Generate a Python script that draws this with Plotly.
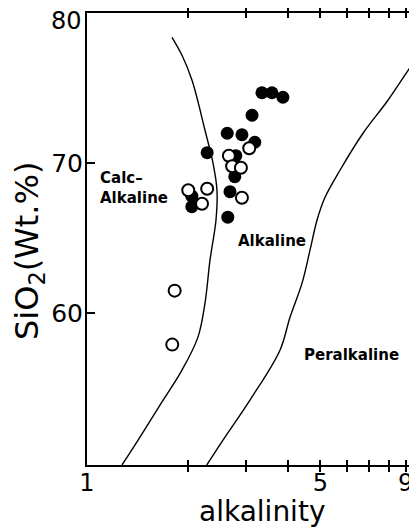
import plotly.graph_objects as go
import math

# Boundary curves (alkalinity, SiO2)
calc_alk_x = [1.797, 1.925, 2.063, 2.256, 2.384, 2.450, 2.433, 2.335, 2.256, 2.149, 1.925, 1.654, 1.441, 1.273]
calc_alk_y = [78.4, 77.2, 75.53, 72.2, 70.0, 68.2, 66.2, 63.53, 60.67, 58.4, 56.2, 53.87, 51.73, 49.87]
peralk_x = [2.284, 2.554, 3.076, 3.783, 4.054, 4.404, 4.653, 4.883, 5.161, 5.721, 6.706, 7.964, 9.73, 10.64]
peralk_y = [49.87, 51.53, 54.2, 57.53, 59.73, 62.0, 64.2, 66.2, 67.73, 69.53, 72.0, 74.2, 77.07, 78.2]

# Samples
filled_x = [3.34, 3.58, 3.86, 3.12, 2.63, 2.91, 3.18, 2.29, 2.79, 2.77, 2.68, 2.64, 2.06, 2.06]
filled_y = [74.7, 74.7, 74.4, 73.2, 72.0, 71.9, 71.4, 70.7, 70.5, 69.1, 68.1, 66.4, 67.8, 67.1]
open_x = [2.66, 3.06, 2.72, 2.89, 2.91, 2.01, 2.29, 2.21, 1.83, 1.80]
open_y = [70.5, 71.0, 69.8, 69.7, 67.7, 68.2, 68.3, 67.3, 61.5, 57.9]

x_tickvals = [1, 2, 3, 4, 5, 6, 7, 8, 9]
x_ticktext = ["1", "", "", "", "5", "", "", "", "9"]
y_tickvals = [60, 70, 80]
y_ticktext = ["60", "70", ""]   # "80" drawn as annotation so it is not clipped at the page top
y_top_label = "80"

FONT = "DejaVu Sans"

fig = go.Figure()
fig.add_trace(go.Scatter(x=calc_alk_x, y=calc_alk_y, mode="lines",
                         line=dict(color="black", width=1.4, shape="spline", smoothing=1.0), showlegend=False))
fig.add_trace(go.Scatter(x=peralk_x, y=peralk_y, mode="lines",
                         line=dict(color="black", width=1.4, shape="spline", smoothing=1.0), showlegend=False))
fig.add_trace(go.Scatter(x=filled_x, y=filled_y, mode="markers",
                         marker=dict(size=13, color="black", line=dict(width=0)), showlegend=False))
fig.add_trace(go.Scatter(x=open_x, y=open_y, mode="markers",
                         marker=dict(size=12, color="white", line=dict(color="black", width=2)),
                         showlegend=False))
# invisible trace for right-side ticks
fig.add_trace(go.Scatter(x=[None], y=[None], yaxis="y2", showlegend=False))

YR = [49.87, 80.02]

# page body has an 8px margin: the figure is offset by 8px
fig.update_layout(
    width=409, height=522,
    margin=dict(l=79, r=0, t=5, b=65, autoexpand=False),
    plot_bgcolor="white", paper_bgcolor="white",
    font=dict(family=FONT, color="black"),
    xaxis=dict(type="log", range=[0, math.log10(9.73)],
               tickvals=x_tickvals, ticktext=x_ticktext,
               ticks="inside", ticklen=5, tickwidth=2, tickcolor="black",
               showline=True, linecolor="black", linewidth=2, mirror="allticks",
               showgrid=False, zeroline=False, automargin=False,
               ticklabeloverflow="allow", ticklabelstandoff=-5,
               tickfont=dict(size=24, family=FONT)),
    yaxis=dict(range=YR, tickvals=y_tickvals, ticktext=y_ticktext,
               ticks="inside", ticklen=8, tickwidth=2, tickcolor="black",
               showline=True, linecolor="black", linewidth=2,
               showgrid=False, zeroline=False, automargin=False,
               ticklabeloverflow="allow", ticklabelstandoff=-3,
               tickfont=dict(size=25, family=FONT)),
    yaxis2=dict(range=YR, overlaying="y", side="right",
                tickvals=[60, 70], ticks="inside", ticklen=6, tickwidth=2, tickcolor="black",
                showticklabels=False, showline=False, showgrid=False, zeroline=False,
                automargin=False),
    annotations=[
        dict(text="alkalinity", x=262, y=511, showarrow=False,
             font=dict(size=28, family=FONT)),
        dict(text="SiO<sub>2</sub>(Wt.%)", x=29, y=251, textangle=-90, showarrow=False,
             font=dict(size=32, family=FONT)),
        dict(text="Calc–<br>Alkaline", x=98, y=188, align="left", xanchor="left", showarrow=False,
             font=dict(size=15, family=FONT, weight="bold")),
        dict(text="Alkaline", x=236, y=241, xanchor="left", showarrow=False,
             font=dict(size=15, family=FONT, weight="bold")),
        dict(text="Peralkaline", x=351, y=355, showarrow=False,
             font=dict(size=15, family=FONT, weight="bold")),
        dict(text=y_top_label, x=84, y=21, xanchor="right", showarrow=False,
             font=dict(size=24, family=FONT)),
    ],
)

# convert reference-pixel-positioned annotations to paper coordinates
pw, ph = 417 - 87, 465 - 13
for a in fig.layout.annotations:
    a.x = (a.x - 87) / pw
    a.y = (465 - a.y) / ph
    a.xref = "paper"
    a.yref = "paper"
    if a.xanchor is None:
        a.xanchor = "center"
    a.yanchor = "middle"

fig.write_html("out.html")
